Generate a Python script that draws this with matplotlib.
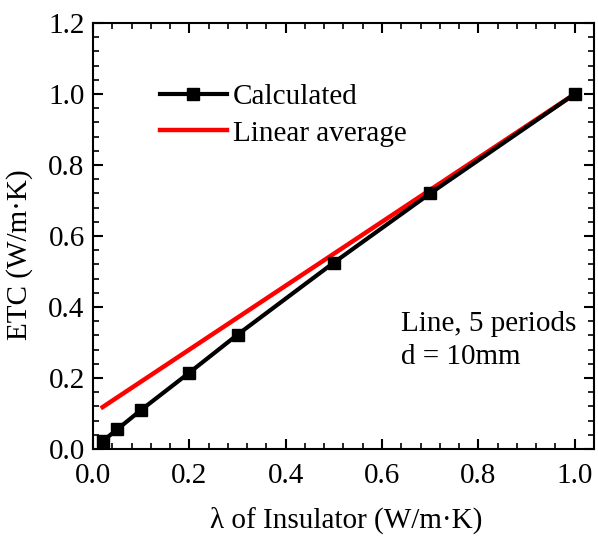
import numpy as np
import matplotlib
matplotlib.use("Agg")
import matplotlib.pyplot as plt
from matplotlib.ticker import MultipleLocator

plt.rcParams['font.family'] = ['Liberation Serif', 'DejaVu Serif']
plt.rcParams['mathtext.fontset'] = 'stix'

# calculated ETC
lam = [0.02, 0.05, 0.1, 0.2, 0.3, 0.5, 0.7, 1.0]
etc = [0.022, 0.055, 0.11, 0.215, 0.322, 0.525, 0.72, 1.0]

# linear average (end points)
lam_avg = [0.02, 1.0]
etc_avg = [0.118, 1.0]

fig = plt.figure(figsize=(5.98, 5.37), dpi=100)
ax = fig.add_axes([0.1555, 0.1639, 0.8378, 0.7933])

ax.plot(lam_avg, etc_avg, color='red', linewidth=3.2, label='Linear average', zorder=2)
ax.plot(lam, etc, color='black', linewidth=3.0, marker='s', markersize=9,
        label='Calculated', zorder=3)

ax.set_xlim(0, 1.04)
ax.set_ylim(0, 1.2)
ax.xaxis.set_major_locator(MultipleLocator(0.2))
ax.xaxis.set_minor_locator(MultipleLocator(0.04))
ax.yaxis.set_major_locator(MultipleLocator(0.2))
ax.yaxis.set_minor_locator(MultipleLocator(0.04))
ax.xaxis.set_major_formatter(plt.FormatStrFormatter('%.1f'))
ax.yaxis.set_major_formatter(plt.FormatStrFormatter('%.1f'))
ax.tick_params(which='both', direction='in', top=True, right=True, labelsize=21)
ax.tick_params(which='major', length=7, width=1.5)
ax.tick_params(which='minor', length=4, width=1.2)
ax.tick_params(axis='x', pad=10)
ax.tick_params(axis='y', pad=6)
for sp in ax.spines.values():
    sp.set_linewidth(1.5)

ax.set_xlabel('λ of Insulator (W/m·K)', fontsize=21)
ax.set_ylabel('ETC (W/m·K)', fontsize=21)
ax.xaxis.set_label_coords(0.505, -0.135)
ax.yaxis.set_label_coords(-0.12, 0.455)

handles, labels = ax.get_legend_handles_labels()
ax.legend(handles[::-1], labels[::-1], loc='upper left', bbox_to_anchor=(0.11, 0.885),
          frameon=False, fontsize=21, handlelength=2.3, handletextpad=0.2,
          labelspacing=0.35, borderaxespad=0)

ax.text(0.615, 0.255, 'Line, 5 periods\nd = 10mm', transform=ax.transAxes,
        fontsize=21, va='center', ha='left', linespacing=1.35)

fig.savefig('out.png', dpi=100)
